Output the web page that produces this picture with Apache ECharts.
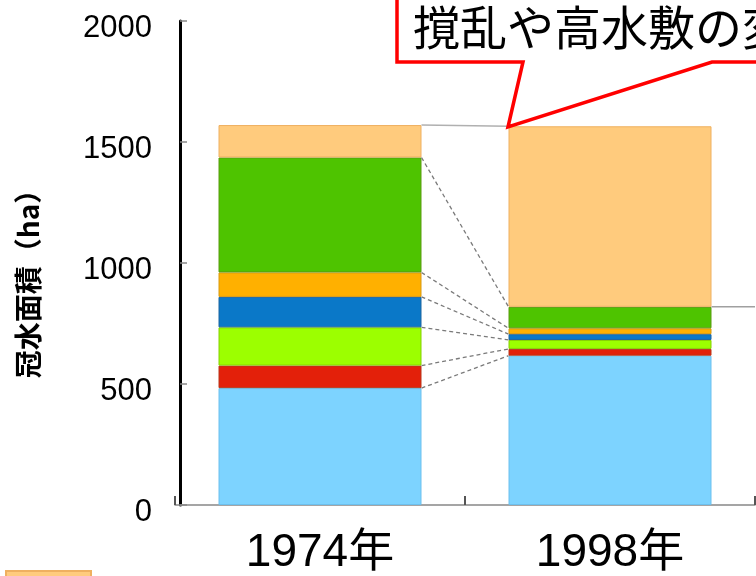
<!DOCTYPE html>
<html>
<head>
<meta charset="utf-8">
<script src="https://cdn.jsdelivr.net/npm/echarts@6/dist/echarts.min.js"></script>
<style>
  html, body { margin: 0; padding: 0; background: #ffffff; }
  #chart { width: 756px; height: 576px; }
</style>
</head>
<body>
<div id="chart"></div>
<script>
// ---- data ----
const categories = ['1974年', '1998年'];
const seriesNames = ['区分1', '区分2', '区分3', '区分4', '区分5', '区分6', '区分7'];
const lightBlueValues   = [483, 617];
const redValues         = [93, 28];
const yellowGreenValues = [158, 37];
const blueValues        = [126, 24];
const orangeValues      = [101, 24];
const greenValues       = [475, 89];
const lightOrangeValues = [134, 746];
const yMin = 0, yMax = 2000, yInterval = 500;
const yAxisTitle = '冠水面積（ha）';
const calloutText = '撹乱や高水敷の変化';

const stackValues = [lightBlueValues, redValues, yellowGreenValues, blueValues, orangeValues, greenValues, lightOrangeValues];
const fillColors   = ['#7dd3ff', '#e3200a', '#9cff00', '#0a78c8', '#ffb000', '#4ec400', '#ffcb7d'];
const borderColors = ['#6cc0ee', '#b8361a', '#86d000', '#1a64a0', '#d89a10', '#5a9a10', '#efb060'];

// cumulative tops per category
const cumulative = categories.map((c, i) => {
  let s = 0;
  return stackValues.map(arr => (s += arr[i]));
});

const numFont = "'Liberation Sans', Arial, 'Noto Sans CJK JP', sans-serif";
const cjkFont = "'Noto Sans CJK JP', 'Noto Sans', sans-serif";

const barSeries = stackValues.map((vals, i) => ({
  name: seriesNames[i],
  type: 'bar',
  stack: 'total',
  barWidth: '70%',
  data: vals,
  itemStyle: { color: fillColors[i], borderColor: borderColors[i], borderWidth: 1 },
  z: 2
}));

const connectorSeries = {
  type: 'custom',
  coordinateSystem: 'cartesian2d',
  data: [[0, 0]],
  encode: { x: 0, y: 1 },
  z: 3,
  silent: true,
  clip: false,
  renderItem: function (params, api) {
    const band = api.size([1, 0])[0];
    const half = band * 0.7 / 2;
    const children = [];
    const n = stackValues.length;
    for (let k = 0; k < n; k++) {
      const p0 = api.coord([0, cumulative[0][k]]);
      const p1 = api.coord([1, cumulative[1][k]]);
      const isTop = (k === n - 1);
      children.push({
        type: 'line',
        shape: { x1: p0[0] + half, y1: p0[1], x2: p1[0] - half, y2: p1[1] },
        style: isTop
          ? { stroke: '#b0b0b0', lineWidth: 1.5 }
          : { stroke: '#7a7a7a', lineWidth: 1.3, lineDash: [4, 3] }
      });
    }
    const pr = api.coord([1, cumulative[1][n - 2]]);
    children.push({
      type: 'line',
      shape: { x1: pr[0] + half, y1: pr[1], x2: params.coordSys.x + params.coordSys.width, y2: pr[1] },
      style: { stroke: '#a0a0a0', lineWidth: 1.5 }
    });
    return { type: 'group', children: children };
  }
};

const chart = echarts.init(document.getElementById('chart'), null, { renderer: 'canvas' });
chart.setOption({
  animation: false,
  backgroundColor: '#ffffff',
  grid: { left: 175, right: 1, top: 21, bottom: 62, containLabel: false },
  legend: {
    data: [seriesNames[6]],
    left: 0, top: 565,
    icon: 'rect',
    itemWidth: 85, itemHeight: 40,
    textStyle: { fontSize: 14, fontFamily: cjkFont, color: '#000' },
    selectedMode: false
  },
  xAxis: {
    type: 'category',
    data: categories,
    axisLine: { show: true, lineStyle: { color: '#888', width: 1.5 } },
    axisTick: { show: true, inside: true, length: 9, lineStyle: { color: '#555', width: 2 } },
    axisLabel: { color: '#000', fontSize: 46, fontFamily: numFont, margin: 25 },
    splitLine: { show: false }
  },
  yAxis: {
    type: 'value',
    min: yMin, max: yMax, interval: yInterval,
    offset: -5,
    axisLine: { show: true, lineStyle: { color: '#000', width: 3 } },
    axisTick: { show: true, inside: true, length: 7, lineStyle: { color: '#888', width: 1.5 } },
    axisLabel: {
      color: '#000', fontSize: 31, fontFamily: numFont, margin: 28,
      verticalAlign: 'top', lineHeight: 14,
      formatter: function (v) { return String(v); }
    },
    splitLine: { show: false }
  },
  series: barSeries.concat([connectorSeries]),
  graphic: [
    {
      type: 'text',
      x: 28, y: 277,
      rotation: Math.PI / 2,
      style: {
        text: yAxisTitle,
        fill: '#000',
        fontSize: 28,
        fontWeight: 'bold',
        fontFamily: cjkFont,
        textAlign: 'center',
        textVerticalAlign: 'middle'
      },
      z: 10
    },
    {
      type: 'polygon',
      shape: { points: [[397, -10], [397, 62], [523, 62], [508, 127], [712, 62], [770, 62], [770, -10]] },
      style: { fill: '#ffffff', stroke: '#ff0000', lineWidth: 3.5, lineJoin: 'miter' },
      z: 20
    },
    {
      type: 'text',
      x: 413, y: 27,
      style: {
        text: calloutText,
        fill: '#000',
        fontSize: 47,
        fontFamily: cjkFont,
        textAlign: 'left',
        textVerticalAlign: 'middle'
      },
      z: 21
    }
  ]
});
</script>
</body>
</html>
